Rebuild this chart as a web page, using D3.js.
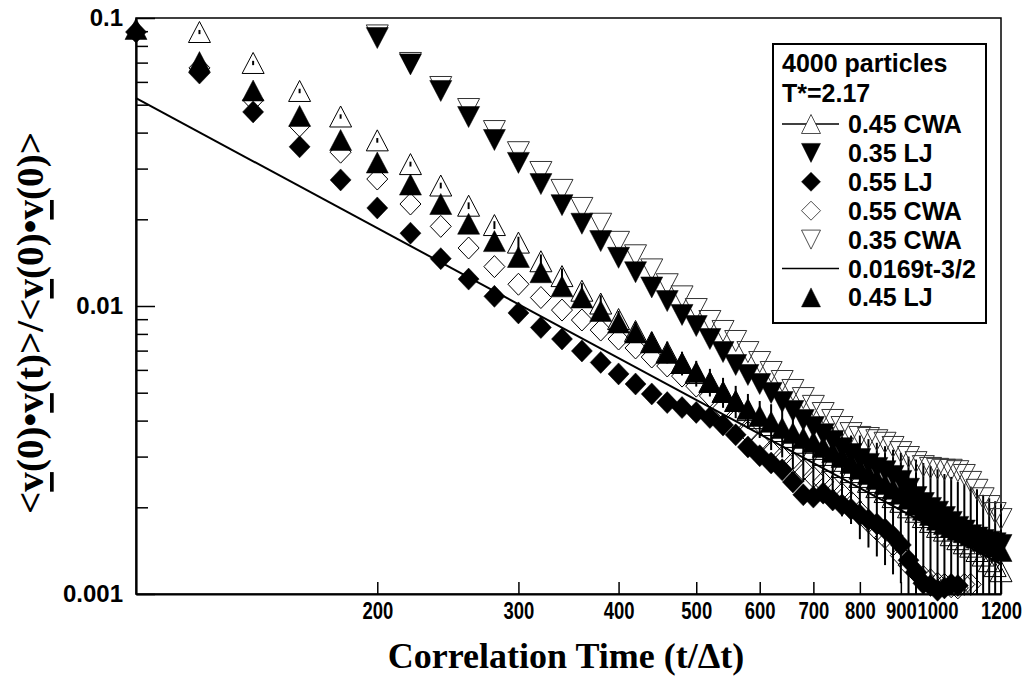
<!DOCTYPE html>
<html>
<head>
<meta charset="utf-8">
<script src="https://cdn.jsdelivr.net/npm/d3@7"></script>
<style>
  body { margin: 0; background: #fff; }
</style>
</head>
<body>
<div id="vis-container"></div>
<script>
// correlation times, one entry per sample (t / delta t)
const timeSteps = [100, 120, 140, 160, 180, 200, 220, 240, 260, 280, 300, 320, 340, 360, 380, 400,
  420, 440, 460, 480, 500, 520, 540, 560, 580, 600, 620, 640, 660, 680, 700, 720, 740, 760, 780, 800,
  820, 840, 860, 880, 900, 920, 940, 960, 980, 1000, 1020, 1040, 1060, 1080, 1100, 1120, 1140, 1160, 1180, 1200];

// values aligned with timeSteps (null = off the plot)
const cwa045 = [null, 0.0894, 0.0698, 0.0558, 0.0455, 0.0376, 0.0311, 0.0262, 0.0223, 0.0191, 0.0166,
  0.0143, 0.0127, 0.0113, 0.0102, 0.00901, 0.00819, 0.0075, 0.00692, 0.00634, 0.00585,
  0.00545, 0.00503, 0.00468, 0.00435, 0.00408, 0.00386, 0.00368, 0.00351, 0.00335, 0.00319,
  0.00304, 0.0029, 0.00276, 0.00265, 0.00255, 0.00245, 0.00235, 0.00226, 0.00217, 0.00209,
  0.002, 0.00193, 0.00185, 0.00178, 0.00171, 0.00166, 0.0016, 0.00155, 0.0015, 0.00146,
  0.00141, 0.00136, 0.0013, 0.00125, 0.0012];
const cwa045Err = [null, 0.0015, 0.0012, 0.001, 0.0008, 0.0007, 0.0006, 0.0006, 0.0006, 0.0006, 0.0008,
  0.0008, 0.0008, 0.0007, 0.0007, 0.0006, 0.0006, 0.0006, 0.0006, 0.0006, 0.0006,
  0.0006, 0.0006, 0.0006, 0.0006, 0.0006, 0.0007, 0.0007, 0.0008, 0.0009, 0.00085,
  0.00085, 0.0009, 0.0009, 0.0009, 0.001, 0.001, 0.001, 0.001, 0.001, 0.001,
  0.001, 0.001, 0.001, 0.001, 0.001, 0.00095, 0.00095, 0.0009, 0.0009, 0.0009,
  0.0009, 0.00085, 0.00085, 0.00085, 0.00085];
const lj035 = [null, null, null, null, null, 0.0852, 0.069, 0.0558, 0.0453, 0.0377, 0.0314,
  0.0265, 0.0224, 0.0193, 0.0168, 0.0147, 0.0131, 0.0116, 0.0104, 0.00931, 0.00852,
  0.00768, 0.00692, 0.00624, 0.00576, 0.00536, 0.00499, 0.00464, 0.00432, 0.00402, 0.0038,
  0.00359, 0.0034, 0.00321, 0.00306, 0.00294, 0.00283, 0.00274, 0.00267, 0.00257, 0.00247,
  0.00232, 0.00217, 0.00207, 0.00199, 0.00193, 0.00185, 0.00178, 0.00171, 0.00166, 0.0016,
  0.00157, 0.00154, 0.00152, 0.0015, 0.00148];
const lj055 = [0.0894, 0.0644, 0.0472, 0.0357, 0.0274, 0.0219, 0.0179, 0.0146, 0.0124, 0.0108, 0.00946,
  0.00842, 0.00768, 0.00698, 0.00637, 0.00581, 0.00536, 0.00495, 0.00462, 0.00444, 0.00427,
  0.0041, 0.00386, 0.00357, 0.00324, 0.00302, 0.00285, 0.0027, 0.00245, 0.00221, 0.00217,
  0.00224, 0.00212, 0.00204, 0.00197, 0.00188, 0.00181, 0.00175, 0.00168, 0.00159, 0.00148,
  0.00131, 0.00119, 0.00109, 0.00107, 0.00103, 0.00105, 0.00108, 0.00107, null, null,
  null, null, null, null, null];
const cwa055 = [null, 0.0671, 0.0519, 0.0422, 0.0342, 0.0276, 0.0226, 0.0189, 0.0159, 0.0137, 0.0119,
  0.0107, 0.00968, 0.00894, 0.00825, 0.00768, 0.00715, 0.00665, 0.00619, 0.00571, 0.00527,
  0.00487, 0.00442, 0.00402, 0.00365, 0.00335, 0.00314, 0.00299, 0.00285, 0.0027, 0.00255,
  0.00245, 0.00235, 0.00223, 0.00209, 0.00193, 0.00178, 0.00167, 0.00157, 0.00148, 0.00136,
  0.00126, 0.00119, 0.00115, 0.00112, 0.00109, 0.00108, 0.00106, 0.00105, 0.00108, 0.00108,
  null, null, null, null, null];
const cwa035 = [null, null, null, null, null, 0.087, 0.0698, 0.0576, 0.0483, 0.0405, 0.0342,
  0.0292, 0.0253, 0.0219, 0.0193, 0.0167, 0.015, 0.0134, 0.0119, 0.0108, 0.00976,
  0.00887, 0.00819, 0.00756, 0.00692, 0.00639, 0.0059, 0.00549, 0.00511, 0.00479, 0.0045,
  0.00425, 0.00402, 0.0038, 0.00362, 0.00351, 0.00348, 0.00342, 0.00335, 0.00324, 0.00311,
  0.00299, 0.00287, 0.00278, 0.00274, 0.00272, 0.0027, 0.0027, 0.00267, 0.00259, 0.00245,
  0.0023, 0.00215, 0.00202, 0.00191, 0.00182];
const lj045 = [0.0916, 0.0703, 0.056, 0.0457, 0.0377, 0.0315, 0.0264, 0.0226, 0.0193, 0.0168, 0.0148,
  0.0131, 0.0117, 0.0107, 0.00961, 0.00876, 0.00809, 0.00747, 0.00687, 0.00634, 0.0059,
  0.00545, 0.00503, 0.00468, 0.00439, 0.00415, 0.00396, 0.00377, 0.00362, 0.00348, 0.00337,
  0.00324, 0.00311, 0.00299, 0.00285, 0.00272, 0.00261, 0.00251, 0.00241, 0.00232, 0.00223,
  0.00214, 0.00204, 0.00196, 0.00188, 0.00181, 0.00175, 0.00171, 0.00167, 0.00164, 0.0016,
  0.00157, 0.00153, 0.00149, 0.00146, 0.00141];

// t^-3/2 fit line end points
const fitT = [100, 1200];
const fitV = [0.0527, 0.00127];

const seriesNames = ['0.45 CWA', '0.35 LJ', '0.55 LJ', '0.55 CWA', '0.35 CWA', '0.0169t-3/2', '0.45 LJ'];
const legendTitle = ['4000 particles', 'T*=2.17'];

const xTickValues = [200, 300, 400, 500, 600, 700, 800, 900, 1000, 1200];
const xTickLabels = ['200', '300', '400', '500', '600', '700', '800', '900', '1000', '1200'];
const yTickValues = [0.001, 0.01, 0.1];
const yTickLabels = ['0.001', '0.01', '0.1'];

// outer svg dimensions
const width = 1036;
const height = 684;
const padding = { top: 18, right: 35, bottom: 90, left: 136 };
const plotAreaWidth = width - padding.left - padding.right;
const plotAreaHeight = height - padding.top - padding.bottom;

const sansFont = "'Liberation Sans', Arial, Helvetica, sans-serif";
const serifFont = "'Liberation Serif', 'Times New Roman', Times, serif";

const xScale = d3.scaleLog().domain([100, 1200]).range([0, plotAreaWidth]);
const yScale = d3.scaleLog().domain([0.001, 0.1]).range([plotAreaHeight, 0]);

// marker outlines, centred on the data point
function shapePath(kind, w, h) {
  if (kind === 'up') return `M0,${-h / 2}L${w / 2},${h / 2}L${-w / 2},${h / 2}Z`;
  if (kind === 'down') return `M0,${h / 2}L${w / 2},${-h / 2}L${-w / 2},${-h / 2}Z`;
  return `M0,${-h / 2}L${w / 2},0L0,${h / 2}L${-w / 2},0Z`;
}

const series = [
  { name: seriesNames[3], values: cwa055, kind: 'diamond', filled: false, stroke: '#000' },
  { name: seriesNames[4], values: cwa035, kind: 'down', filled: false, stroke: '#333' },
  { name: seriesNames[0], values: cwa045, kind: 'up', filled: false, stroke: '#000' },
  { name: seriesNames[1], values: lj035, kind: 'down', filled: true },
  { name: seriesNames[2], values: lj055, kind: 'diamond', filled: true },
  { name: seriesNames[6], values: lj045, kind: 'up', filled: true },
];

const container = d3.select('#vis-container');
const svg = container.append('svg')
  .attr('width', width)
  .attr('height', height)
  .style('background', '#fff');

const g = svg.append('g')
  .attr('transform', `translate(${padding.left} ${padding.top})`);

// frame
g.append('rect')
  .attr('width', plotAreaWidth)
  .attr('height', plotAreaHeight)
  .attr('fill', 'none')
  .attr('stroke', '#000')
  .attr('stroke-width', 1.5);

// y axis: major ticks with labels, minor ticks inward
const yAxisG = g.append('g').classed('y-axis', true);
yAxisG.call(d3.axisLeft(yScale)
  .tickValues(yTickValues)
  .tickSizeInner(-19)
  .tickSizeOuter(0)
  .tickPadding(13)
  .tickFormat((d, i) => yTickLabels[i]));
const yMinor = yScale.ticks().filter(d => yTickValues.indexOf(d) < 0);
g.append('g').call(d3.axisLeft(yScale)
  .tickValues(yMinor)
  .tickSizeInner(-12)
  .tickSizeOuter(0)
  .tickFormat(''))
  .select('.domain').remove();
yAxisG.selectAll('.tick text')
  .attr('font-family', sansFont)
  .attr('font-weight', 'bold')
  .attr('font-size', 24)
  .attr('fill', '#000');

// x axis
const xAxisG = g.append('g').classed('x-axis', true)
  .attr('transform', `translate(0 ${plotAreaHeight})`);
xAxisG.call(d3.axisBottom(xScale)
  .tickValues(xTickValues)
  .tickSizeInner(-12)
  .tickSizeOuter(0)
  .tickPadding(8)
  .tickFormat((d, i) => xTickLabels[i]));
// narrow labels, as in the original
xAxisG.selectAll('.tick text')
  .attr('font-family', sansFont)
  .attr('font-weight', 'bold')
  .attr('font-size', 24)
  .attr('fill', '#000')
  .attr('transform', 'scale(0.77 1)');

svg.selectAll('.tick line').attr('stroke', '#000').attr('stroke-width', 1.5);
svg.selectAll('.domain').attr('stroke', '#000').attr('stroke-width', 2.2);

// fit line
const line = d3.line()
  .x(d => xScale(d[0]))
  .y(d => yScale(d[1]));
g.append('path')
  .datum(fitT.map((t, i) => [t, fitV[i]]))
  .attr('fill', 'none')
  .attr('stroke', '#000')
  .attr('stroke-width', 2)
  .attr('d', line);

// error bars on 0.45 CWA
const yMin = yScale.domain()[0];
const yMax = yScale.domain()[1];
const errData = timeSteps.map((t, i) => ({ t: t, v: cwa045[i], e: cwa045Err[i] }))
  .filter(d => d.v !== null);
g.append('g').selectAll('line')
  .data(errData)
  .join('line')
  .attr('x1', d => xScale(d.t))
  .attr('x2', d => xScale(d.t))
  .attr('y1', d => yScale(Math.min(d.v + d.e, yMax)))
  .attr('y2', d => yScale(Math.max(d.v - d.e, yMin)))
  .attr('stroke', '#000')
  .attr('stroke-width', 2);

// markers
series.forEach(function (s) {
  const pts = timeSteps.map((t, i) => ({ t: t, v: s.values[i] })).filter(d => d.v !== null);
  const w = s.kind === 'diamond' ? 21 : 22;
  const h = s.kind === 'diamond' ? 22 : 21;
  g.append('g').selectAll('path')
    .data(pts)
    .join('path')
    .attr('transform', d => `translate(${xScale(d.t)} ${yScale(d.v)})`)
    .attr('d', shapePath(s.kind, w, h))
    .attr('fill', s.filled ? '#000' : 'none')
    .attr('stroke', s.filled ? '#000' : s.stroke)
    .attr('stroke-width', s.filled ? 0.5 : 1);
});

// axis titles
const yTitle = svg.append('text')
  .attr('transform', `translate(30 ${padding.top + plotAreaHeight / 2 + 17}) rotate(-90)`)
  .attr('text-anchor', 'middle')
  .attr('dominant-baseline', 'central')
  .attr('font-family', serifFont)
  .attr('font-weight', 'bold')
  .attr('font-size', 37)
  .attr('textLength', 382)
  .attr('lengthAdjust', 'spacingAndGlyphs');
[['<', false], ['v', true], ['(0)•', false], ['v', true], ['(t)>/<', false],
 ['v', true], ['(0)•', false], ['v', true], ['(0)>', false]].forEach(function (p) {
  yTitle.append('tspan')
    .text(p[0])
    .style('text-decoration', p[1] ? 'underline' : 'none');
});

svg.append('text')
  .attr('x', 566)
  .attr('y', 668)
  .attr('text-anchor', 'middle')
  .attr('font-family', serifFont)
  .attr('font-weight', 'bold')
  .attr('font-size', 36)
  .text('Correlation Time (t/Δt)');

// legend
const legend = svg.append('g');
legend.append('rect')
  .attr('x', 773)
  .attr('y', 44)
  .attr('width', 213)
  .attr('height', 279)
  .attr('fill', '#fff')
  .attr('stroke', '#000')
  .attr('stroke-width', 2);
legend.selectAll('text.title')
  .data(legendTitle)
  .join('text')
  .attr('class', 'title')
  .attr('x', 782)
  .attr('y', (d, i) => 72 + i * 30)
  .attr('font-family', sansFont)
  .attr('font-weight', 'bold')
  .attr('font-size', 25)
  .text(d => d);

const legendItems = [
  { kind: 'up', filled: false, line: true },
  { kind: 'down', filled: true },
  { kind: 'diamond', filled: true },
  { kind: 'diamond', filled: false },
  { kind: 'down', filled: false, dashed: true },
  { kind: null, line: true },
  { kind: 'up', filled: true },
];
legendItems.forEach(function (item, i) {
  const cy = 124 + i * 28.9;
  const row = legend.append('g');
  if (item.line) {
    row.append('line')
      .attr('x1', 782).attr('x2', 839)
      .attr('y1', cy).attr('y2', cy)
      .attr('stroke', '#000')
      .attr('stroke-width', 1.5);
  }
  if (item.kind) {
    row.append('path')
      .attr('transform', `translate(811 ${cy})`)
      .attr('d', shapePath(item.kind, 19, 19))
      .attr('fill', item.filled ? '#000' : (item.line ? '#fff' : 'none'))
      .attr('stroke', item.filled ? '#000' : '#222')
      .attr('stroke-width', item.filled ? 0.5 : 0.8);
  }
  row.append('text')
    .attr('x', 848)
    .attr('y', cy + 9)
    .attr('font-family', sansFont)
    .attr('font-weight', 'bold')
    .attr('font-size', 25)
    .text(seriesNames[i]);
});
</script>
</body>
</html>
